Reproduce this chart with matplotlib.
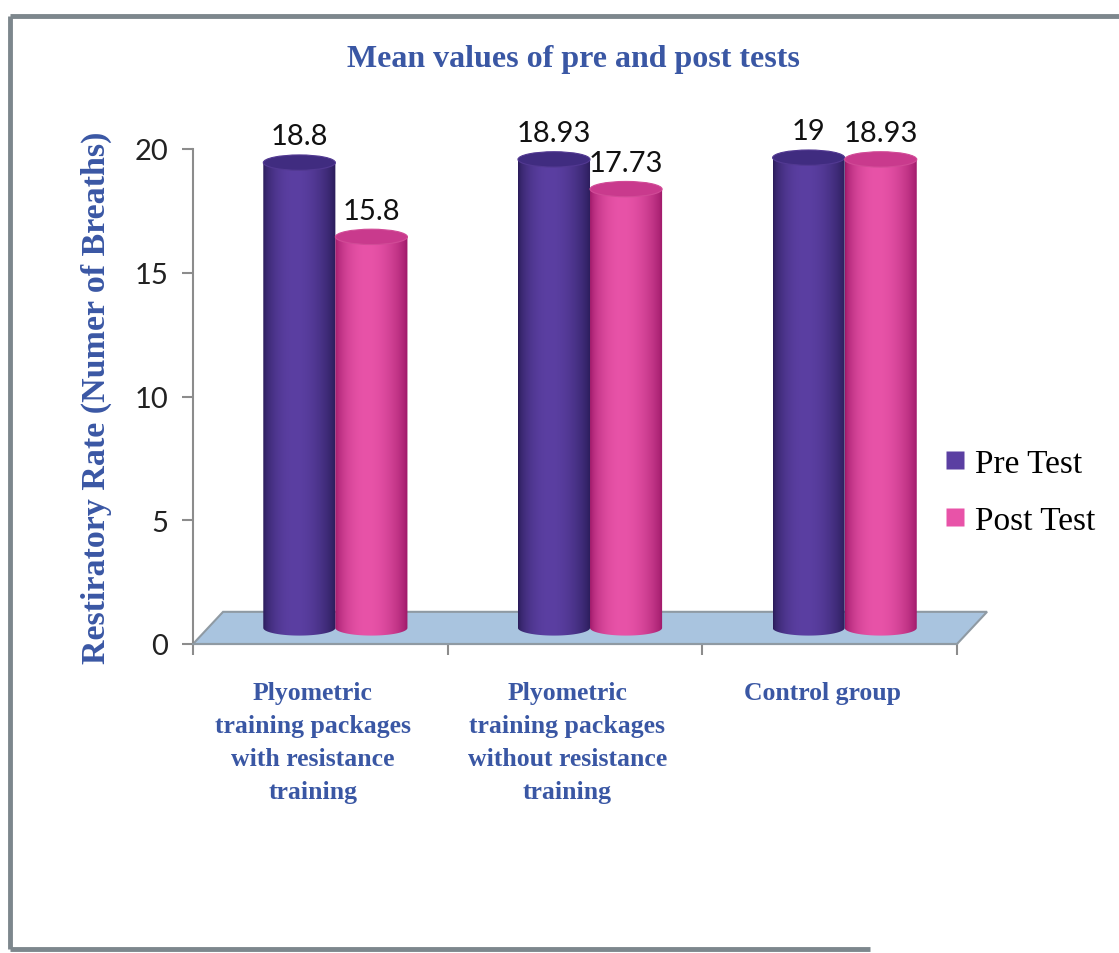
import numpy as np
import matplotlib
matplotlib.use('Agg')
from matplotlib import pyplot as plt
from matplotlib.patches import Ellipse, Polygon
from matplotlib.lines import Line2D
from matplotlib.colors import to_rgb

# mean values per group
groups = ['Plyometric\ntraining packages\nwith resistance\ntraining',
          'Plyometric\ntraining packages\nwithout resistance\ntraining',
          'Control group']
pre_test = [18.8, 18.93, 19]
post_test = [15.8, 17.73, 18.93]
series_names = ['Pre Test', 'Post Test']

BLUE = '#3a57a4'
# (dark edge, light centre, cap colour) for each series
SHADES = [('#271a55', '#5b3fa2', '#402c80'),
          ('#9a1565', '#e853a8', '#c93a8d')]

W = 0.283      # cylinder width, in category units
DX = 0.059     # half depth of the floor, x units
DY = 0.65      # half depth of the floor, y units
EH = 0.62      # ellipse height of the cylinder caps


def cylinder(ax, xc, value, shade):
    dark, light, cap = [np.array(to_rgb(c)) for c in shade]
    x0, x1 = xc - W / 2, xc + W / 2
    base, top = DY, DY + value
    ang = np.linspace(np.pi, 2 * np.pi, 60)
    arc = np.column_stack([xc + W / 2 * np.cos(ang), base + EH / 2 * np.sin(ang)])
    pts = np.vstack([[x0, top], arc, [x1, top]])
    body = Polygon(pts, closed=True, facecolor='none', edgecolor='none', transform=ax.transData)
    ax.add_patch(body)

    u = np.linspace(0, 1, 200)
    t = np.clip(np.sin(np.pi * (u ** 0.85)), 0, 1) ** 0.7
    grad = dark[None, :] + (light - dark)[None, :] * t[:, None]
    im = ax.imshow(grad[None, :, :], extent=(x0, x1, base - EH, top), aspect='auto',
                   interpolation='bilinear', zorder=3)
    im.set_clip_path(body)

    ax.add_patch(Ellipse((xc, top), W, EH, facecolor=cap, edgecolor=light * 0.9,
                         linewidth=0.8, zorder=4))


fig = plt.figure(figsize=(11.19, 9.54), dpi=100)
ax = fig.add_axes([193 / 1119, 1 - 645 / 954, 764 / 1119, 495 / 954])

# floor of the chart
floor = Polygon([(0, 0), (3, 0), (3 + 2 * DX, 2 * DY), (2 * DX, 2 * DY)], closed=True,
                facecolor='#a9c4df', edgecolor='#8f9aa3', linewidth=1.5, zorder=1, clip_on=False)
ax.add_patch(floor)

for i in range(len(groups)):
    centre = i + 0.5 + DX
    for j, vals in enumerate([pre_test, post_test]):
        xc = centre + (j - 0.5) * W
        cylinder(ax, xc, vals[i], SHADES[j])
        ax.annotate('{:g}'.format(vals[i]), (xc, DY + vals[i] + EH / 2), xytext=(0, 4),
                    textcoords='offset points', ha='center', va='bottom',
                    fontsize=21, family='Lato', color='#111111', zorder=5)

ax.set_xlim(0, 3)
ax.set_ylim(0, 20)
ax.set_yticks([0, 5, 10, 15, 20])
ax.set_xticks([0, 1, 2, 3])
ax.set_xticklabels([])
ax.tick_params(axis='both', direction='out', length=8, color='#8c8c8c', width=1.5)
ax.tick_params(axis='y', pad=10, labelsize=21, labelcolor='#222222')
for lab in ax.get_yticklabels():
    lab.set_family('Lato')
for side in ['top', 'right']:
    ax.spines[side].set_visible(False)
ax.spines['left'].set_color('#8c8c8c')
ax.spines['left'].set_linewidth(1.5)
ax.spines['bottom'].set_color('#8f9aa3')
ax.spines['bottom'].set_linewidth(1.5)
ax.patch.set_alpha(0)

for i, g in enumerate(groups):
    ax.text(i + 0.47, -1.5, g, ha='center', va='top', fontsize=18.5, fontweight='bold',
            family='Liberation Serif', color=BLUE, linespacing=1.55)

ax.set_ylabel('Restiratory Rate (Numer of Breaths)', fontsize=24.5, fontweight='bold',
              family='Liberation Serif', color=BLUE, labelpad=16)
fig.text(573 / 1119, 1 - 60 / 954, 'Mean values of pre and post tests', ha='center', va='center',
         fontsize=23, fontweight='bold', family='Liberation Serif', color=BLUE)

handles = [Line2D([], [], linestyle='none', marker='s', markersize=13,
                  markerfacecolor=SHADES[k][1], markeredgecolor='none') for k in range(2)]
fig.legend(handles, series_names, loc='center left', bbox_to_anchor=(912 / 1119, 1 - 493 / 954),
           frameon=False, handlelength=0.8, handletextpad=0.2, labelspacing=0.8,
           prop={'family': 'Liberation Serif', 'size': 24})

# border of the chart area
frame = dict(color='#7d878d', linewidth=3.5, solid_capstyle='butt')
fig.add_artist(Line2D([10 / 1119, 1.0], [1 - 17 / 954] * 2, transform=fig.transFigure, **frame))
fig.add_artist(Line2D([10 / 1119] * 2, [1 - 17 / 954, 1 - 950 / 954], transform=fig.transFigure, **frame))
fig.add_artist(Line2D([10 / 1119, 870 / 1119], [1 - 950 / 954] * 2, transform=fig.transFigure, **frame))

fig.savefig('out.png', dpi=100, facecolor='white')
